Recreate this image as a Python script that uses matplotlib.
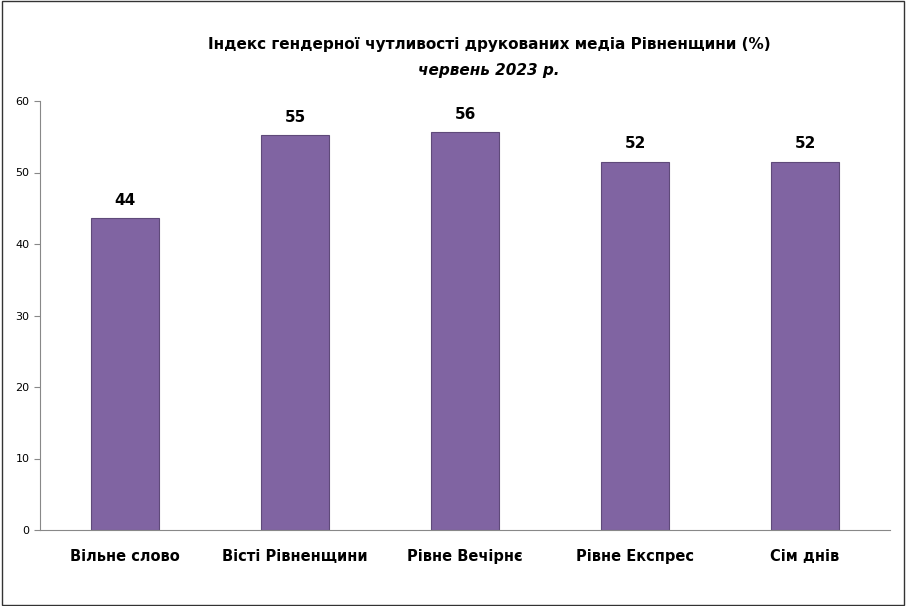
import matplotlib.pyplot as plt
from matplotlib.patches import Rectangle

plt.rcParams['font.family'] = ['DejaVu Sans']

categories = ['Вільне слово', 'Вісті Рівненщини', 'Рівне Вечірнє', 'Рівне Експрес', 'Сім днів']
values = [43.6, 55.2, 55.6, 51.5, 51.5]
labels = ['44', '55', '56', '52', '52']

fig = plt.figure(figsize=(9.06, 6.06), dpi=100)
ax = fig.add_axes([40 / 906, 1 - 530 / 606, 850 / 906, 429 / 606])

x = range(len(categories))
bars = ax.bar(x, values, width=0.4, color='#8064A2', edgecolor='#5F4A7A', linewidth=0.8)
for b, lab in zip(bars, labels):
    ax.text(b.get_x() + b.get_width() / 2, b.get_height() + 1.5, lab,
            ha='center', va='bottom', fontsize=11, fontweight='bold')

ax.set_xlim(-0.5, len(categories) - 0.5)
ax.set_ylim(0, 60)
ax.set_yticks(range(0, 61, 10))
ax.set_xticks(list(x))
ax.set_xticklabels(categories, fontsize=10.5, fontweight='bold')
ax.tick_params(axis='y', labelsize=8, length=4, color='#888888')
ax.tick_params(axis='x', length=0, pad=14)
for s in ['top', 'right']:
    ax.spines[s].set_visible(False)
ax.spines['left'].set_color('#888888')
ax.spines['bottom'].set_color('#888888')

fig.text(0.54, 1 - 45 / 606, 'Індекс гендерної чутливості друкованих медіа Рівненщини (%)',
         ha='center', va='center', fontsize=11, fontweight='bold')
fig.text(0.54, 1 - 70 / 606, 'червень 2023 р.', ha='center', va='center',
         fontsize=11, fontweight='bold', style='italic')

fig.patches.append(Rectangle((0.002, 0.002), 0.996, 0.996, transform=fig.transFigure,
                             fill=False, edgecolor='#333333', linewidth=1))

fig.savefig('out.png', dpi=100)
